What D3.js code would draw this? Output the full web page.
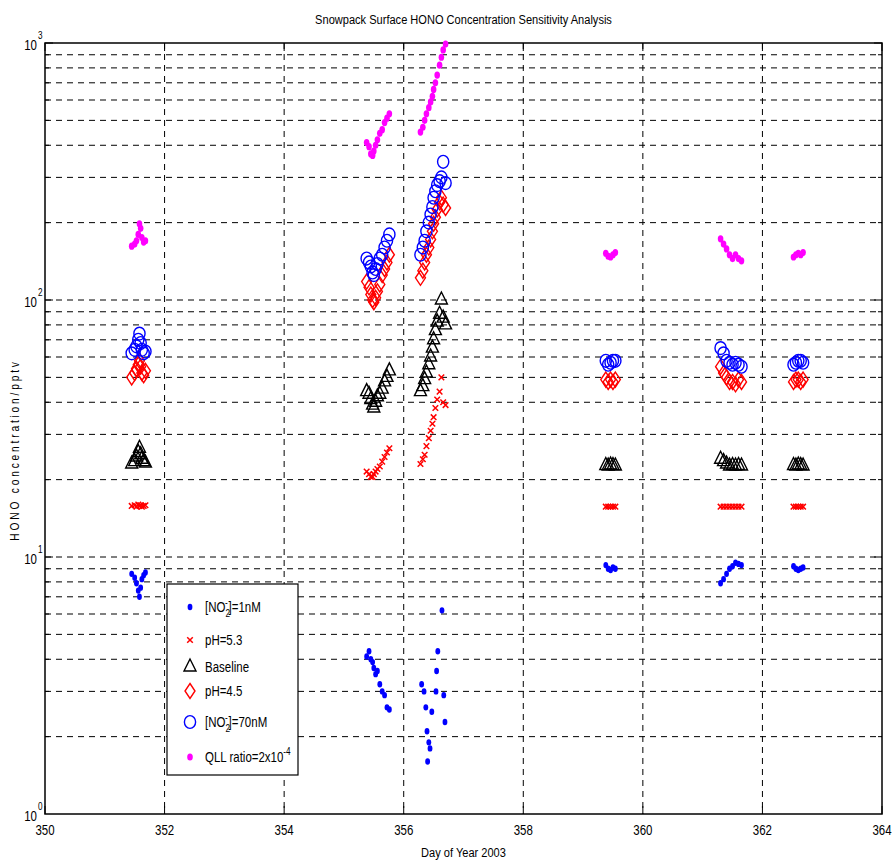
<!DOCTYPE html>
<html><head><meta charset="utf-8">
<script src="https://cdn.jsdelivr.net/npm/d3@7"></script>
<style>
body{margin:0;background:#fff;}
svg text{font-family:'Liberation Sans',Arial,sans-serif;fill:#000;}
</style></head><body>
<svg id="chart" width="893" height="862"></svg>
<script>
// ---- data ----
const title = "Snowpack Surface HONO Concentration Sensitivity Analysis";
const xLabel = "Day of Year 2003";
const yLabel = "HONO concentration/pptv";
const xTicks = [350, 352, 354, 356, 358, 360, 362, 364];
const yDecades = [1, 10, 100, 1000];
const yDecadeExp = ["0", "1", "2", "3"];

// shared sample times (days) for most series, grouped by field period
const days = [
  351.45, 351.50, 351.53, 351.56, 351.58, 351.60, 351.62, 351.65, 351.68,
  355.38, 355.42, 355.45, 355.48, 355.50, 355.53, 355.56, 355.60, 355.64, 355.68, 355.72, 355.76,
  356.28, 356.32, 356.35, 356.38, 356.42, 356.45, 356.48, 356.50, 356.53, 356.56, 356.60, 356.63, 356.66, 356.70,
  359.38, 359.42, 359.46, 359.50, 359.54,
  361.30, 361.35, 361.40, 361.45, 361.50, 361.55, 361.60, 361.65,
  362.52, 362.56, 362.60, 362.64, 362.68
];
const dotDays = [
  351.45, 351.50, 351.53, 351.56, 351.58, 351.60, 351.62, 351.65, 351.68,
  355.38, 355.42, 355.45, 355.48, 355.50, 355.53, 355.56, 355.60, 355.64, 355.68, 355.72, 355.76,
  356.30, 356.34, 356.37, 356.39, 356.42, 356.44, 356.40, 356.47, 356.54, 356.55, 356.57, 356.64, 356.67, 356.69,
  359.38, 359.42, 359.46, 359.50, 359.54,
  361.30, 361.35, 361.40, 361.45, 361.50, 361.55, 361.60, 361.65,
  362.52, 362.56, 362.60, 362.64, 362.68
];
// [NO2-]=1nM
const no2Low = [
  8.6, 8.3, 7.9, 7.4, 7.0, 7.6, 8.2, 8.5, 8.7,
  4.1, 4.3, 4.0, 3.9, 3.7, 3.5, 3.6, 3.2, 3.0, 2.9, 2.6, 2.55,
  3.2, 3.0, 2.6, 2.1, 1.9, 1.8, 1.6, 2.5, 3.0, 3.6, 4.3, 6.2, 2.9, 2.28,
  9.3, 9.0, 8.9, 9.1, 9.0,
  7.9, 8.2, 8.6, 9.0, 9.2, 9.5, 9.4, 9.3,
  9.2, 9.0, 8.9, 9.0, 9.1
];
// pH=5.3
const ph53 = [
  15.8, 15.9, 15.7, 16.0, 15.8, 15.9, 15.7, 15.8, 15.9,
  21.5, 21.0, 20.5, 20.5, 21.0, 21.5, 22.0, 22.5, 23.5, 24.5, 25.5, 26.5,
  23, 24, 25, 27, 29, 31, 33, 35, 38, 41, 44, 50, 40, 39,
  15.7, 15.7, 15.7, 15.7, 15.7,
  15.7, 15.7, 15.7, 15.7, 15.7, 15.7, 15.7, 15.7,
  15.7, 15.7, 15.7, 15.7, 15.7
];
// Baseline
const baseline = [
  23, 23.5, 24.5, 25.5, 26.5, 25, 24, 23.5, 23.2,
  44, 43, 41, 39, 38, 40, 42, 43, 45, 48, 50, 53,
  44, 46, 49, 52, 56, 60, 65, 70, 76, 82, 88, 100, 85, 80,
  22.7, 22.6, 22.8, 22.7, 22.6,
  24, 23.5, 23, 22.6, 22.7, 22.6, 22.7, 22.6,
  22.7, 22.6, 22.8, 22.7, 22.6
];
// pH=4.5
const ph45 = [
  50, 52, 54, 56, 58, 55, 52, 51, 53,
  118, 112, 105, 100, 98, 102, 108, 115, 125, 132, 140, 150,
  122, 130, 140, 150, 160, 172, 185, 198, 210, 225, 240, 250, 235, 228,
  49, 48, 49, 48, 49,
  55, 52, 50, 48, 48, 47, 49, 48,
  48, 49, 49, 48, 49
];
// [NO2-]=70nM
const no2High = [
  62, 64, 66, 70, 74, 68, 64, 62, 63,
  145, 140, 135, 128, 125, 132, 138, 145, 150, 160, 170, 180,
  150, 160, 170, 185, 200, 215, 230, 250, 265, 280, 290, 300, 345, 285,
  58, 56, 57, 58, 58,
  65, 62, 58, 57, 56, 57, 56, 55,
  56, 57, 58, 58, 57
];
// QLL ratio=2x10^-4
const qll = [
  162, 165, 170, 180, 198, 190, 175, 168, 170,
  410, 395, 370, 365, 380, 400, 420, 445, 460, 490, 510, 530,
  450, 470, 500, 530, 560, 590, 620, 660, 700, 750, 820, 880, 940, 990,
  152, 148, 147, 150, 153,
  173, 165, 158, 150, 145, 150, 145, 142,
  147, 150, 152, 150, 153
];

// ---- layout ----
const svg = d3.select("#chart");
const L = 45, R = 882, T = 43, B = 814;
const NARROW = 0.82;
const x = d3.scaleLinear().domain([350, 364]).range([L, R]);
const y = d3.scaleLog().domain([1, 1000]).range([B, T]);

// condensed text helper (emulates a narrow sans face)
function ntext(parent, px, py, size, anchor, rot) {
  return parent.append("text")
    .attr("transform", `translate(${px},${py})${rot ? " rotate(" + rot + ")" : ""} scale(${NARROW},1)`)
    .attr("font-size", size).attr("text-anchor", anchor || "start");
}

// grid
const grid = svg.append("g").attr("stroke", "#000").attr("stroke-width", 1).attr("stroke-dasharray", "6,5").attr("fill", "none");
const minorVals = [];
for (let d = 1; d < 1000; d *= 10) for (let m = 1; m <= 9; m++) { const v = d * m; if (v > 1) minorVals.push(v); }
grid.selectAll("line.h").data(minorVals).enter().append("line")
  .attr("x1", L).attr("x2", R).attr("y1", d => y(d)).attr("y2", d => y(d));
grid.selectAll("line.v").data(xTicks.slice(1, -1)).enter().append("line")
  .attr("y1", T).attr("y2", B).attr("x1", d => x(d)).attr("x2", d => x(d));

// ticks
const ticks = svg.append("g").attr("stroke", "#000").attr("stroke-width", 1);
xTicks.forEach(t => {
  ticks.append("line").attr("x1", x(t)).attr("x2", x(t)).attr("y1", B).attr("y2", B - 8);
  ticks.append("line").attr("x1", x(t)).attr("x2", x(t)).attr("y1", T).attr("y2", T + 8);
});
minorVals.concat([1000]).forEach(v => {
  const major = yDecades.includes(v);
  const len = major ? 8 : 4;
  ticks.append("line").attr("x1", L).attr("x2", L + len).attr("y1", y(v)).attr("y2", y(v));
  ticks.append("line").attr("x1", R).attr("x2", R - len).attr("y1", y(v)).attr("y2", y(v));
});

// frame
svg.append("rect").attr("x", L).attr("y", T).attr("width", R - L).attr("height", B - T)
  .attr("fill", "none").attr("stroke", "#000").attr("stroke-width", 1.5);

// tick labels
xTicks.forEach(t => ntext(svg, x(t), B + 21, 14, "middle").text(t));
yDecades.forEach((v, i) => {
  ntext(svg, 37, y(v) + 7, 14, "end").text("10");
  ntext(svg, 38, y(v) - 4, 10, "start").text(yDecadeExp[i]);
});

// title & axis labels
ntext(svg, (L + R) / 2, 24, 13.5, "middle").text(title);
ntext(svg, (L + R) / 2, 857, 13.5, "middle").text(xLabel);
ntext(svg, 19, 450, 12.5, "middle", -90).attr("letter-spacing", 3.4).text(yLabel);

// marker shapes
const shapes = {
  dot: (g, c) => g.append("ellipse").attr("rx", 2.4).attr("ry", 3.2).attr("fill", c),
  mdot: (g, c) => g.append("ellipse").attr("rx", 2.8).attr("ry", 3.6).attr("fill", c),
  cross: (g, c) => g.append("path").attr("d", "M-2.8,-2.8L2.8,2.8M-2.8,2.8L2.8,-2.8").attr("stroke", c).attr("stroke-width", 1.5).attr("fill", "none"),
  tri: (g, c) => g.append("path").attr("d", "M0,-8L6,4L-6,4Z").attr("stroke", c).attr("stroke-width", 1.4).attr("fill", "none"),
  diamond: (g, c) => g.append("path").attr("d", "M0,-7.5L5,0L0,7.5L-5,0Z").attr("stroke", c).attr("stroke-width", 1.4).attr("fill", "none"),
  circle: (g, c) => g.append("ellipse").attr("rx", 5.6).attr("ry", 6.4).attr("stroke", c).attr("stroke-width", 1.4).attr("fill", "none")
};

const series = [
  {name: "no2Low", xs: dotDays, ys: no2Low, shape: "dot", color: "#0000ff"},
  {name: "ph53", xs: days, ys: ph53, shape: "cross", color: "#ff0000"},
  {name: "baseline", xs: days, ys: baseline, shape: "tri", color: "#000000"},
  {name: "ph45", xs: days, ys: ph45, shape: "diamond", color: "#ff0000"},
  {name: "no2High", xs: days, ys: no2High, shape: "circle", color: "#0000ff"},
  {name: "qll", xs: days, ys: qll, shape: "mdot", color: "#ff00ff"}
];
const plot = svg.append("g");
series.forEach(s => {
  const g = plot.append("g").attr("class", s.name);
  s.ys.forEach((v, i) => {
    const m = g.append("g").attr("transform", `translate(${x(s.xs[i])},${y(v)})`);
    shapes[s.shape](m, s.color);
  });
});

// legend
const lg = svg.append("g").attr("transform", "translate(167,584)");
lg.append("rect").attr("width", 131).attr("height", 191).attr("fill", "#fff").attr("stroke", "#000").attr("stroke-width", 1.2);
const legendRows = [23, 56, 83, 107, 138, 173];
series.forEach((s, i) => {
  const m = lg.append("g").attr("transform", `translate(23,${legendRows[i]})`);
  shapes[s.shape](m, s.color);
});
function no2Label(yy, rest) {
  const t = ntext(lg, 38, yy + 5, 14, "start");
  t.append("tspan").text("[NO");
  t.append("tspan").attr("font-size", 10).attr("dy", 5).text("2");
  t.append("tspan").attr("font-size", 10).attr("dx", -6).attr("dy", -11).text("-");
  t.append("tspan").attr("dx", 1).attr("dy", 6).text(rest);
}
no2Label(legendRows[0], "]=1nM");
ntext(lg, 38, legendRows[1] + 5, 14, "start").text("pH=5.3");
ntext(lg, 38, legendRows[2] + 5, 14, "start").text("Baseline");
ntext(lg, 38, legendRows[3] + 5, 14, "start").text("pH=4.5");
no2Label(legendRows[4], "]=70nM");
ntext(lg, 38, legendRows[5] + 5, 14, "start")
  .call(t => { t.append("tspan").text("QLL ratio=2x10"); t.append("tspan").attr("font-size", 10).attr("dy", -7).text("-4"); });
</script>
</body></html>
